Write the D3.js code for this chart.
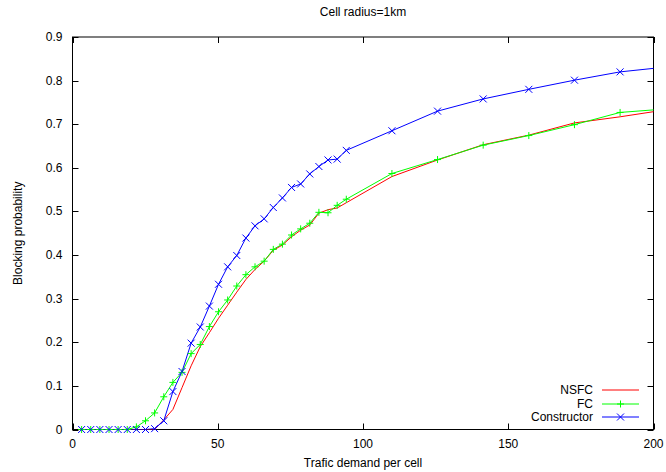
<!DOCTYPE html>
<meta charset="utf-8">
<head>
  <title>Blocking probability</title>
  <script src="https://d3js.org/d3.v7.min.js"></script>
  <style>
    body { margin: 0; background: #fff; }
    text { font-family: "Liberation Sans", Arial, sans-serif; font-size: 12px; fill: #000; }
  </style>
</head>
<body>
<div id="display"></div>
<script>

// traffic demand per cell (x)
var traffic = [3.14, 6.28, 9.42, 12.57, 15.71, 18.85, 21.99, 25.13, 28.27, 31.42,
  34.56, 37.70, 40.84, 43.98, 47.12, 50.27, 53.41, 56.55, 59.69, 62.83,
  65.97, 69.12, 72.26, 75.40, 78.54, 81.68, 84.82, 87.96, 91.11, 94.25,
  109.96, 125.66, 141.37, 157.08, 172.79, 188.50, 204.20];

var nsfc = [0, 0, 0, 0, 0, 0, 0, 0, 0, 0.022,
  0.046, 0.096, 0.146, 0.190, 0.222, 0.255, 0.285, 0.315, 0.344, 0.367,
  0.386, 0.411, 0.423, 0.442, 0.457, 0.469, 0.496, 0.504, 0.508, 0.520,
  0.580, 0.618, 0.653, 0.675, 0.703, 0.717, 0.733];

var fc = [0, 0, 0, 0, 0, 0, 0.006, 0.020, 0.038, 0.075,
  0.108, 0.131, 0.174, 0.195, 0.236, 0.270, 0.297, 0.329, 0.355, 0.373,
  0.386, 0.413, 0.425, 0.446, 0.460, 0.473, 0.498, 0.497, 0.514, 0.528,
  0.587, 0.619, 0.652, 0.674, 0.699, 0.727, 0.735];

var constructorP = [0, 0, 0, 0, 0, 0, 0, 0, 0.002, 0.020,
  0.087, 0.133, 0.198, 0.235, 0.283, 0.333, 0.373, 0.399, 0.439, 0.467,
  0.483, 0.509, 0.531, 0.555, 0.563, 0.586, 0.603, 0.618, 0.620, 0.640,
  0.685, 0.730, 0.758, 0.780, 0.801, 0.820, 0.831];

var xTicks = [0, 50, 100, 150, 200];
var yTicks = [0, 0.1, 0.2, 0.3, 0.4, 0.5, 0.6, 0.7, 0.8, 0.9];

var series = [
  {name: "NSFC", values: nsfc, color: "#ff0000", marker: "none"},
  {name: "FC", values: fc, color: "#00ff00", marker: "plus"},
  {name: "Constructor", values: constructorP, color: "#0000ff", marker: "cross"}
];

var width = 666, height = 472;
var plotL = 72.5, plotR = 653.5, plotT = 37, plotB = 429.5;

var svg = d3.select("#display")
  .append("svg")
    .attr("width", width)
    .attr("height", height);

var x = d3.scaleLinear().domain([0, 200]).range([plotL, plotR]);
var y = d3.scaleLinear().domain([0, 0.9]).range([plotB, plotT]);

svg.append("defs").append("clipPath").attr("id", "plotclip")
  .append("rect")
    .attr("x", plotL).attr("y", plotT)
    .attr("width", plotR - plotL).attr("height", plotB - plotT);

// ticks, inward and mirrored
var tickLen = 6;
var gTicks = svg.append("g").attr("stroke", "#000").attr("stroke-width", 1);
yTicks.forEach(function(t) {
  var yy = Math.round(y(t)) + 0.5;
  gTicks.append("line").attr("x1", plotL).attr("x2", plotL + tickLen).attr("y1", yy).attr("y2", yy);
  gTicks.append("line").attr("x1", plotR - tickLen).attr("x2", plotR).attr("y1", yy).attr("y2", yy);
  svg.append("text")
    .attr("x", plotL - 10).attr("y", y(t) + 4)
    .attr("text-anchor", "end")
    .text(t === 0 ? "0" : d3.format(".1f")(t));
});
xTicks.forEach(function(t) {
  var xx = Math.round(x(t)) + 0.5;
  gTicks.append("line").attr("x1", xx).attr("x2", xx).attr("y1", plotB).attr("y2", plotB - tickLen);
  gTicks.append("line").attr("x1", xx).attr("x2", xx).attr("y1", plotT).attr("y2", plotT + tickLen);
  svg.append("text")
    .attr("x", x(t)).attr("y", plotB + 18)
    .attr("text-anchor", "middle")
    .text(t);
});

// border
svg.append("rect")
  .attr("x", plotL).attr("y", plotT)
  .attr("width", plotR - plotL).attr("height", plotB - plotT)
  .attr("fill", "none").attr("stroke", "#000").attr("stroke-width", 1);

// series: lines clipped to the frame, points drawn whole when inside the x range
var plot = svg.append("g").attr("clip-path", "url(#plotclip)");
var points = svg.append("g");

function drawMarker(g, type, cx, cy, color) {
  var s = 3.5;
  if (type === "plus") {
    g.append("path")
      .attr("d", "M" + (cx - s) + "," + cy + "H" + (cx + s) + "M" + cx + "," + (cy - s) + "V" + (cy + s))
      .attr("stroke", color).attr("stroke-width", 1).attr("fill", "none");
  } else if (type === "cross") {
    g.append("path")
      .attr("d", "M" + (cx - s) + "," + (cy - s) + "L" + (cx + s) + "," + (cy + s) +
                 "M" + (cx - s) + "," + (cy + s) + "L" + (cx + s) + "," + (cy - s))
      .attr("stroke", color).attr("stroke-width", 1).attr("fill", "none");
  }
}

var line = d3.line()
  .x(function(d) { return x(d[0]); })
  .y(function(d) { return y(d[1]); });

series.forEach(function(s) {
  var pts = traffic.map(function(t, i) { return [t, s.values[i]]; });
  plot.append("path")
    .datum(pts)
    .attr("d", line)
    .attr("fill", "none")
    .attr("stroke", s.color)
    .attr("stroke-width", 1);
  pts.forEach(function(p) {
    if (p[0] <= 200) drawMarker(points, s.marker, x(p[0]), y(p[1]), s.color);
  });
});

// legend
var legendY = [390, 404, 417];
series.forEach(function(s, i) {
  var ly = legendY[i];
  svg.append("text")
    .attr("x", 593).attr("y", ly + 4)
    .attr("text-anchor", "end")
    .text(s.name);
  svg.append("line")
    .attr("x1", 602).attr("x2", 639).attr("y1", ly).attr("y2", ly)
    .attr("stroke", s.color).attr("stroke-width", 1);
  drawMarker(svg, s.marker, 620.5, ly, s.color);
});

// titles
svg.append("text")
  .attr("x", 363).attr("y", 16)
  .attr("text-anchor", "middle")
  .text("Cell radius=1km");

svg.append("text")
  .attr("x", 363).attr("y", 467)
  .attr("text-anchor", "middle")
  .text("Trafic demand per cell");

svg.append("text")
  .attr("transform", "translate(22," + ((plotT + plotB) / 2) + ") rotate(-90)")
  .attr("text-anchor", "middle")
  .text("Blocking probability");

</script>
</body>
